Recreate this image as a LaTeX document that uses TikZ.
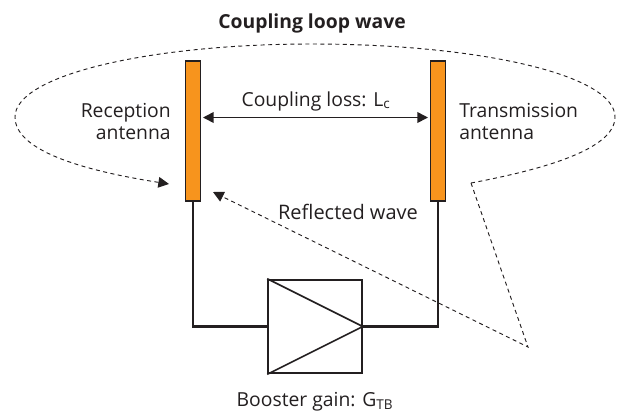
\documentclass[tikz,border=0pt]{standalone}
\usepackage{fontspec}
\usepackage{xcolor}
\setmainfont{Open Sans}
\usetikzlibrary{arrows.meta}
\definecolor{inkdark}{HTML}{231F20}
\definecolor{antorange}{HTML}{F7941D}

\begin{document}
\begin{tikzpicture}[x=0.75pt,y=-0.75pt,>={Triangle[length=8pt,width=8pt]},
    every node/.style={font=\fontsize{14.5}{16.5}\selectfont,text=inkdark,inner sep=0pt},
    antenna/.style={draw=inkdark,fill=antorange,line width=1pt,minimum width=11pt,minimum height=105pt,inner sep=0pt},
    wire/.style={draw=inkdark,line width=1.7pt},
    wave/.style={draw=inkdark,line width=0.7pt,dash pattern=on 3pt off 2.6pt}]
    \useasboundingbox (0,0) rectangle (624,412);
    \node [antenna] (rxant) at (193,131) {};
    \node [antenna] (txant) at (438,131) {};
    \node [draw=inkdark,line width=1.7pt,fill=white,minimum width=70pt,minimum height=70pt,inner sep=0pt] (booster) at (315,326.5) {};
      \draw [wire] (rxant.south) |- (booster.west);
      \draw [wire] (txant.south) |- (booster.east);
      \draw [draw=inkdark,line width=1.2pt] (booster.north west) -- (booster.east) -- (booster.south west);
      \draw [<->,draw=inkdark,line width=1.2pt] (rxant.east) ++(2,-13.5) coordinate (lossa) (txant.west) ++(-2,-13.5) coordinate (lossb) (lossa) -- (lossb);
    % feedback path, started at the tip of the reflected wave
    \coordinate (tipa) at (169,184);
    \coordinate (tipb) at (213,192);
    \coordinate (kink) at (471,183);
    \coordinate (farpt) at (528,347);
    \draw [wave,->] (kink) .. controls (540,170) and (615,150) .. (615,117)
        .. controls (615,75) and (480,44) .. (312,44)
        .. controls (150,44) and (15,75) .. (15,117)
        .. controls (15,150) and (80,170) .. (tipa);
    \draw [wave,->] (kink) -- (farpt) -- (tipb);
    \node [font=\fontsize{14.5}{16.5}\selectfont\bfseries] (title) at (312,23) {Coupling loop wave};
    \node [align=right,anchor=east] (rxlabel) at (171,121) {Reception\\antenna};
    \node [align=left,anchor=west] (txlabel) at (459,121) {Transmission\\antenna};
    \node (losslabel) at (316,101) {Coupling loss: L\textsubscript{c}};
    \node [font=\fontsize{15}{16.5}\selectfont] (reflabel) at (348,212) {Reflected wave};
    \node (gainlabel) at (315,402) {Booster gain: G\textsubscript{TB}};
\end{tikzpicture}
\end{document}
